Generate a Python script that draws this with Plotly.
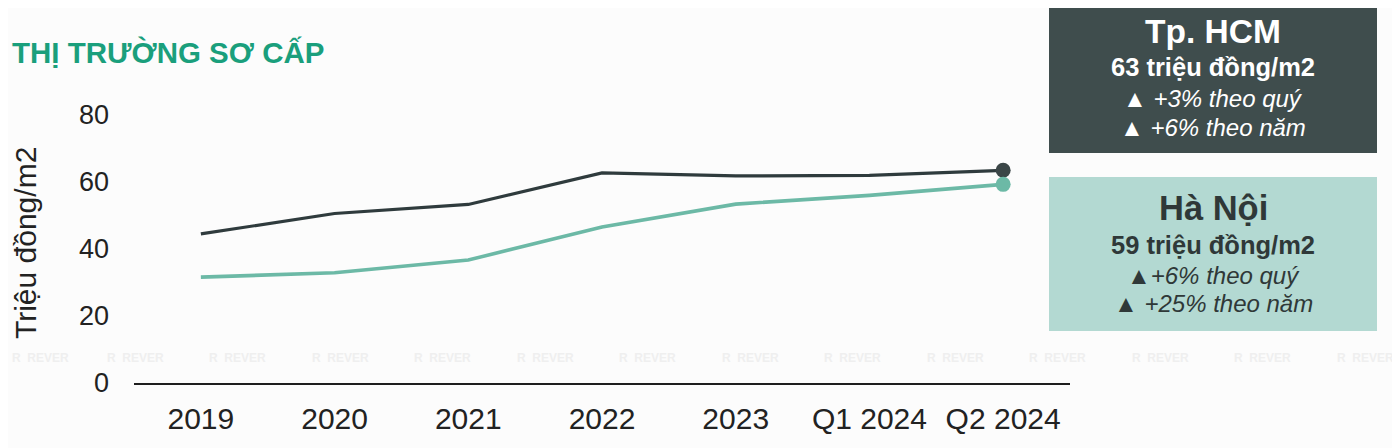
import plotly.graph_objects as go

categories = ["2019", "2020", "2021", "2022", "2023", "Q1 2024", "Q2 2024"]
hcm_values = [44.5, 50.6, 53.3, 62.7, 61.8, 62.0, 63.5]
hn_values = [31.6, 32.9, 36.7, 46.6, 53.4, 56.0, 59.3]
y_ticks = [0, 20, 40, 60, 80]

title_text = "THỊ TRƯỜNG SƠ CẤP"
y_title = "Triệu đồng/m2"
hcm_box = ["Tp. HCM", "63 triệu đồng/m2", "▲ +3% theo quý", "▲ +6% theo năm"]
hn_box = ["Hà Nội", "59 triệu đồng/m2", "▲+6% theo quý", "▲ +25% theo năm"]

# page has an 8px body margin: work in screen coords, shift by OFF
OFF = 8
W, H = 1400, 448
L, R, T, B = 134 - OFF, 1400 - (1070 - OFF), 115 - OFF, 448 - (383 - OFF)
PW, PH = W - L - R, H - T - B


def px(x):
    return (x - OFF - L) / PW


def py(y):
    return (H - B - (y - OFF)) / PH


FONT = "Arial, Liberation Sans, sans-serif"
DARK = "#2f3b3d"
TEAL = "#6cb9a6"

fig = go.Figure()
fig.add_trace(go.Scatter(x=categories, y=hcm_values, mode="lines",
                         line=dict(color=DARK, width=3.2), showlegend=False))
fig.add_trace(go.Scatter(x=categories, y=hn_values, mode="lines",
                         line=dict(color=TEAL, width=3.6), showlegend=False))
fig.add_trace(go.Scatter(x=[categories[-1]], y=[hcm_values[-1]], mode="markers",
                         marker=dict(color="#3b4647", size=15), showlegend=False))
fig.add_trace(go.Scatter(x=[categories[-1]], y=[hn_values[-1]], mode="markers",
                         marker=dict(color=TEAL, size=15), showlegend=False))

shapes = []
annotations = []

# watermark
for i in range(14):
    x0 = max(i * 102.5 + 2, 10)
    annotations.append(dict(xref="paper", yref="paper", x=px(x0), y=py(358),
                            text="<b>R</b>  <b>REVER</b>", showarrow=False,
                            xanchor="left", yanchor="middle",
                            font=dict(family=FONT, size=12, color="#efefef")))

# title
annotations.append(dict(xref="paper", yref="paper", x=px(10), y=py(52),
                        text="<b>" + title_text + "</b>", showarrow=False,
                        xanchor="left", yanchor="middle",
                        font=dict(family=FONT, size=29.5, color="#1a9f7c")))
# y title
annotations.append(dict(xref="paper", yref="paper", x=px(25), y=py(243),
                        text=y_title, textangle=-90, showarrow=False,
                        xanchor="center", yanchor="middle",
                        font=dict(family=FONT, size=30, color="#222222")))

# boxes
shapes.append(dict(type="rect", xref="paper", yref="paper",
                   x0=px(1049), x1=px(1377), y0=py(153), y1=py(0),
                   fillcolor="#3f4d4d", line=dict(width=0), layer="below"))
shapes.append(dict(type="rect", xref="paper", yref="paper",
                   x0=px(1049), x1=px(1377), y0=py(331), y1=py(177),
                   fillcolor="#b3d9d2", line=dict(width=0), layer="below"))

cx = px(1213)
box_specs = [
    (hcm_box, [31, 67, 98, 127], "#ffffff", 33.5),
    (hn_box, [208, 245, 275, 303], "#2f3838", 34.5),
]
for texts, ys, col, s0 in box_specs:
    fmt = [("<b>%s</b>", s0), ("<b>%s</b>", 25.5), ("<i>%s</i>", 24), ("<i>%s</i>", 24)]
    for t, yy, (f, s) in zip(texts, ys, fmt):
        annotations.append(dict(xref="paper", yref="paper", x=cx, y=py(yy),
                                text=f % t, showarrow=False,
                                xanchor="center", yanchor="middle",
                                font=dict(family=FONT, size=s, color=col)))

fig.update_layout(
    width=W, height=H,
    margin=dict(l=L, r=R, t=T, b=B, autoexpand=False),
    paper_bgcolor="#fcfcfc",
    plot_bgcolor="rgba(0,0,0,0)",
    shapes=shapes,
    annotations=annotations,
    xaxis=dict(type="category", range=[-0.5, 6.5], showgrid=False,
               showline=True, linecolor="#1e1e1e", linewidth=1.6,
               ticks="", ticklabelstandoff=8,
               tickfont=dict(family=FONT, size=30, color="#222222"),
               zeroline=False),
    yaxis=dict(range=[0, 80], tickvals=y_ticks, showgrid=False,
               showline=False, zeroline=False, ticks="",
               ticklabelstandoff=24,
               tickfont=dict(family=FONT, size=27, color="#222222")),
)

fig.write_html("out.html")
